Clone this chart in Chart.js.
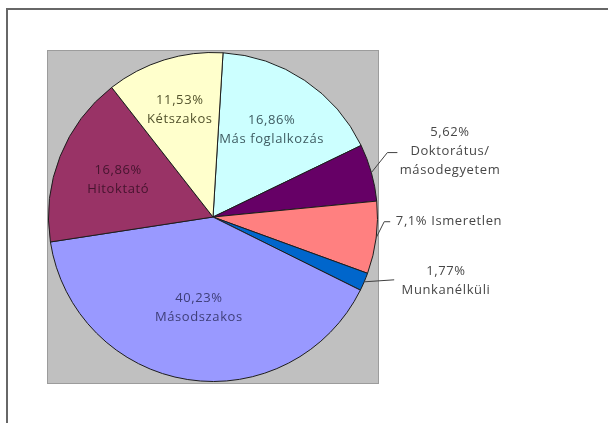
<!DOCTYPE html>
<html lang="hu">
<head>
  <meta charset="UTF-8" />
  <title>Megoszlás</title>
  <script src="https://cdn.jsdelivr.net/npm/chart.js"></script>
  <style>
    body {
      margin: 0;
      background: #fff;
      width: 608px;
      height: 423px;
      overflow: hidden;
      position: relative;
    }
    .frame {
      position: absolute;
      left: 6px;
      top: 8px;
      width: 620px;
      height: 440px;
      border-left: 2px solid #676767;
      border-top: 2px solid #676767;
    }
    .wrap {
      position: absolute;
      left: 0;
      top: 0;
      width: 608px;
      height: 423px;
    }
  </style>
</head>
<body>
  <div class="frame"></div>
  <div class="wrap"><canvas id="chartPie"></canvas></div>

  <script>
    // adatok
    const categories = ['Más foglalkozás', 'Doktorátus/ másodegyetem', 'Ismeretlen', 'Munkanélküli', 'Másodszakos', 'Hitoktató', 'Kétszakos'];
    const shares = [16.86, 5.62, 7.1, 1.77, 40.23, 16.86, 11.53];
    const colors = ['#ccffff', '#660066', '#ff8080', '#0066cc', '#9999ff', '#993366', '#ffffcc'];

    // címke elrendezés (csak stílus)
    const nameLines = [['Más foglalkozás'], ['Doktorátus/', 'másodegyetem'], ['Ismeretlen'], ['Munkanélküli'], ['Másodszakos'], ['Hitoktató'], ['Kétszakos']];
    const labelColors = ['#3f5c62', '#474747', '#474747', '#474747', '#3e3e78', '#45142e', '#52522c'];
    const outside = [false, true, true, true, false, false, false];
    const insideRadius = [0.64, 0, 0, 0, 0.56, 0.62, 0.68];
    const leader = [
      null,
      { ex: 16, ey: -20, len: 10, tx: 237, ty: -21 },
      { ex: 8, ey: -16, len: 6, tx: 236, ty: -16, oneLine: true },
      { ex: 30, ey: -2, len: 0, tx: 233, ty: -1 }
    ];

    const fmt = v => String(v).replace('.', ',') + '%';
    const FONT = '13px "Open Sans", sans-serif';
    const LH = 19;

    const plotBg = {
      id: 'plotBg',
      beforeDraw(chart) {
        const { ctx, chartArea: a } = chart;
        ctx.save();
        ctx.fillStyle = '#c0c0c0';
        ctx.fillRect(a.left, a.top, a.width, a.height);
        ctx.strokeStyle = '#9c9c9c';
        ctx.lineWidth = 1;
        ctx.strokeRect(a.left - 0.5, a.top - 0.5, a.width + 1, a.height + 1);
        ctx.restore();
      }
    };

    const pieLabels = {
      id: 'pieLabels',
      afterDatasetsDraw(chart) {
        const { ctx } = chart;
        const arcs = chart.getDatasetMeta(0).data;
        ctx.save();
        ctx.font = FONT;
        ctx.textAlign = 'center';
        ctx.textBaseline = 'middle';
        if ('letterSpacing' in ctx) ctx.letterSpacing = '0.6px';
        arcs.forEach((arc, i) => {
          const { x, y, startAngle, endAngle, outerRadius } = arc.getProps(['x', 'y', 'startAngle', 'endAngle', 'outerRadius'], true);
          const mid = (startAngle + endAngle) / 2;
          if (!outside[i]) {
            const r = outerRadius * insideRadius[i];
            const lx = x + Math.cos(mid) * r;
            const ly = y + Math.sin(mid) * r;
            const lines = [fmt(shares[i])].concat(nameLines[i]);
            ctx.fillStyle = labelColors[i];
            lines.forEach((t, k) => ctx.fillText(t, lx, ly + (k - (lines.length - 1) / 2) * LH));
            return;
          }
          const L = leader[i];
          const px = x + Math.cos(mid) * outerRadius;
          const py = y + Math.sin(mid) * outerRadius;
          const ex = px + L.ex, ey = py + L.ey;
          ctx.strokeStyle = '#404040';
          ctx.lineWidth = 1;
          ctx.beginPath();
          ctx.moveTo(px, py);
          ctx.lineTo(ex, ey);
          ctx.lineTo(ex + L.len, ey);
          ctx.stroke();
          const lines = L.oneLine ? [fmt(shares[i]) + ' ' + nameLines[i][0]] : [fmt(shares[i])].concat(nameLines[i]);
          const lx = x + L.tx, ly = py + L.ty;
          ctx.fillStyle = labelColors[i];
          lines.forEach((t, k) => ctx.fillText(t, lx, ly + (k - (lines.length - 1) / 2) * LH));
        });
        ctx.restore();
      }
    };

    new Chart(document.getElementById('chartPie'), {
      type: 'pie',
      data: {
        labels: categories,
        datasets: [{
          data: shares,
          backgroundColor: colors,
          borderColor: '#1e1e1e',
          borderWidth: 1
        }]
      },
      options: {
        responsive: true,
        maintainAspectRatio: false,
        animation: false,
        rotation: 3.5,
        layout: { padding: { left: 48, top: 51, right: 230, bottom: 40 } },
        plugins: {
          legend: { display: false },
          tooltip: { enabled: false }
        }
      },
      plugins: [plotBg, pieLabels]
    });
  </script>
</body>
</html>
